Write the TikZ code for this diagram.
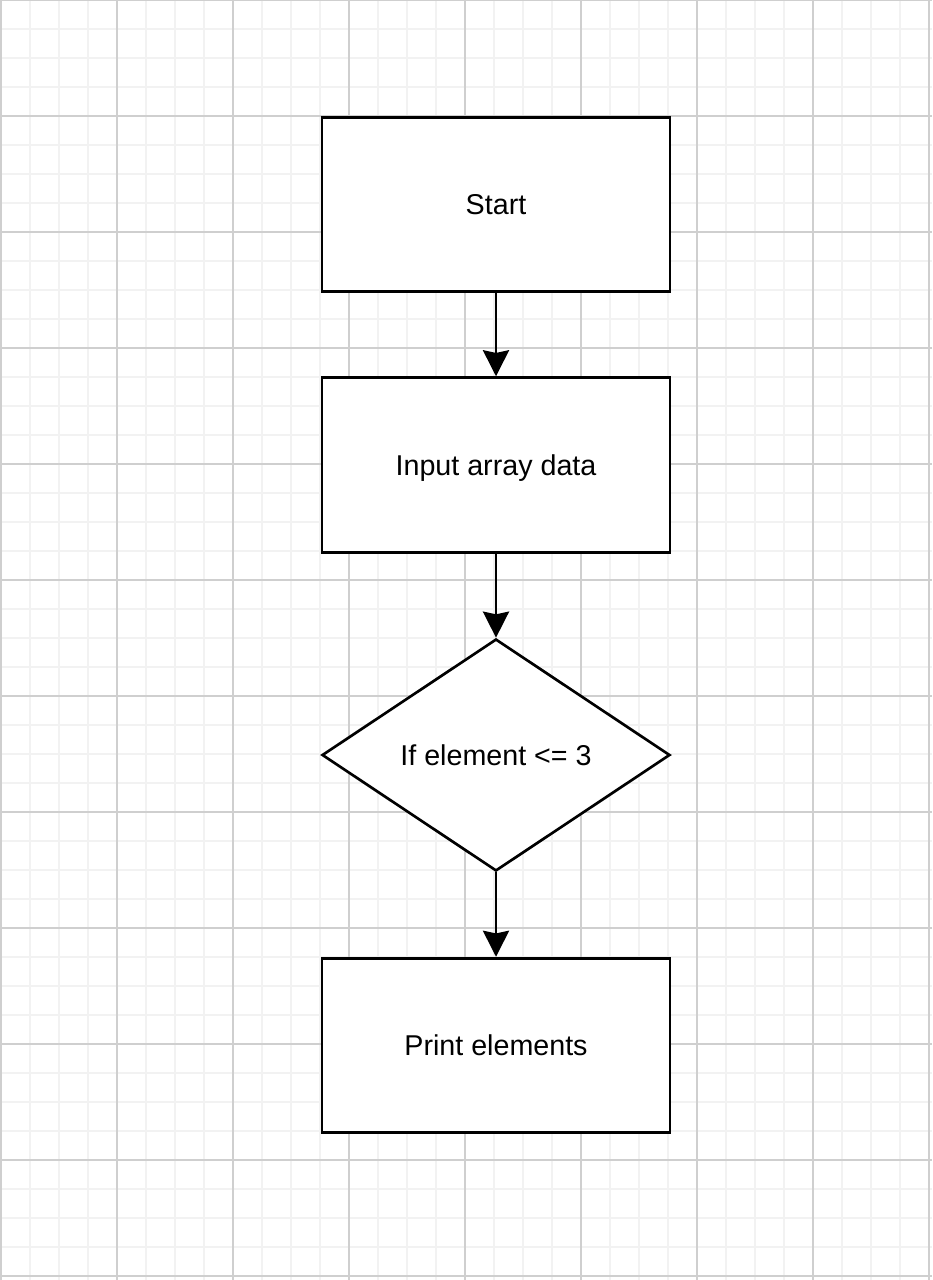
\documentclass[tikz,border=0pt]{standalone}
\usepackage{fontspec}
\setmainfont{Liberation Sans}
\usetikzlibrary{shapes.geometric,arrows.meta}
\tikzset{
  minorgrid/.style={draw=black!5, line width=1.1pt},
  majorgrid/.style={draw=black!19, line width=0.8pt},
  labelfont/.style={font=\fontsize{21.5}{25}\selectfont, text height=15.4pt, text depth=0pt},
  procbox/.style={draw=black, fill=white, line width=2.1pt, minimum width=261pt, minimum height=131pt, inner sep=0pt, labelfont},
  decbox/.style={draw=black, fill=white, shape=diamond, line width=2pt, minimum width=261pt, minimum height=174pt, inner sep=0pt, labelfont},
  flow/.style={draw=black, line width=2.2pt, -{Stealth[length=19.5pt, width=19.5pt, inset=2pt]}}
}
\begin{document}
\begin{tikzpicture}[x=0.75pt, y=-0.75pt]
\useasboundingbox (0,0) rectangle (932,1280);
\fill[white] (0,0) rectangle (932,1280);
% minor grid
\foreach \k in {0,...,32} {
  \draw[minorgrid] ({1+29*\k},0) -- ({1+29*\k},1280);
}
\foreach \k in {0,...,44} {
  \draw[minorgrid] (0,{29*\k}) -- (932,{29*\k});
}
% major grid
\foreach \k in {0,...,8} {
  \draw[majorgrid] ({1+116*\k},0) -- ({1+116*\k},1280);
}
\foreach \k in {0,...,11} {
  \draw[majorgrid] (0,{116*\k}) -- (932,{116*\k});
}
\node[procbox] (start) at (496,204.5) {Start};
\node[procbox] (input) at (496,465) {Input array data};
\node[decbox] (dec) at (496,755) {If element <= 3};
\node[procbox] (print) at (496,1045.5) {Print elements};
\draw[flow] (start) -- (input);
\draw[flow] (input) -- (dec);
\draw[flow] (dec) -- (print);
\end{tikzpicture}
\end{document}
